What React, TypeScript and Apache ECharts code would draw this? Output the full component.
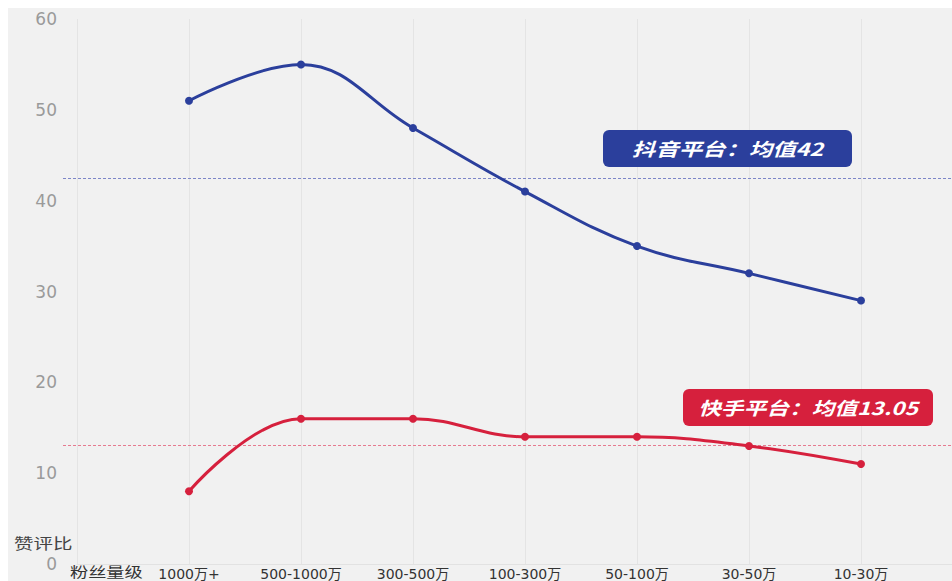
import React, { useEffect, useRef } from "react";
import * as echarts from "echarts";

const categories = ["", "1000万+", "500-1000万", "300-500万", "100-300万", "50-100万", "30-50万", "10-30万", ""];
const douyinValues = [null, 51, 55, 48, 41, 35, 32, 29, null];
const kuaishouValues = [null, 8, 16, 16, 14, 14, 13, 11, null];
const douyinMean = 42.5;
const kuaishouMean = 13.05;
const douyinLabel = "抖音平台：均值42";
const kuaishouLabel = "快手平台：均值13.05";
const yTicks = [0, 10, 20, 30, 40, 50, 60];

const BLUE = "#2b3f9c";
const RED = "#d6203d";
const BLUE_DASH = "#7d86c8";
const RED_DASH = "#e67a90";

export default function App() {
  const ref = useRef<HTMLDivElement>(null);
  useEffect(() => {
    const chart = echarts.init(ref.current!, null, { renderer: "svg" });
    const fontFamily = "'Noto Sans CJK SC', 'Noto Sans', sans-serif";
    const wideFont = "'DejaVu Sans', 'Noto Sans CJK SC', sans-serif";
    const boxText = (text: string, w: number, sx: number) => ({
      type: "text",
      x: w / 2,
      y: 18.5,
      scaleX: sx,
      z: 101,
      style: {
        text,
        fill: "#fff",
        fontSize: 18,
        fontWeight: "bold",
        fontStyle: "italic",
        fontFamily,
        align: "center",
        verticalAlign: "middle",
      },
    });
    chart.setOption({
      animation: false,
      color: [BLUE, RED],
      backgroundColor: "#f1f1f1",
      textStyle: { fontFamily },
      grid: { left: 69, width: 896, top: 11, bottom: 17, containLabel: false, outerBoundsMode: "none" },
      xAxis: {
        type: "category",
        data: categories,
        boundaryGap: false,
        axisLine: { show: true, lineStyle: { color: "#e2e2e2" } },
        axisTick: { show: false },
        axisLabel: { color: "#333", fontSize: 14, margin: 3, interval: 0, fontFamily: wideFont },
        splitLine: { show: true, lineStyle: { color: "#e4e4e4", width: 1 } },
      },
      yAxis: {
        type: "value",
        min: yTicks[0],
        max: yTicks[yTicks.length - 1],
        interval: 10,
        axisLine: { show: false },
        axisTick: { show: false },
        axisLabel: { color: "#9a9a9a", fontSize: 17, margin: 20, fontFamily: wideFont },
        splitLine: { show: false },
      },
      series: [
        {
          type: "line",
          data: douyinValues,
          smooth: 0.4,
          symbol: "circle",
          symbolSize: 8,
          z: 3,
          lineStyle: { color: BLUE, width: 3 },
          itemStyle: { color: BLUE },
        },
        {
          type: "line",
          data: kuaishouValues,
          smooth: 0.4,
          symbol: "circle",
          symbolSize: 8,
          z: 3,
          lineStyle: { color: RED, width: 3 },
          itemStyle: { color: RED },
        },
      ],
      graphic: [
        {
          id: "box-douyin",
          type: "group",
          x: 595,
          y: 122,
          z: 100,
          children: [
            { type: "rect", z: 100, shape: { x: 0, y: 0, width: 249, height: 37, r: 6 }, style: { fill: BLUE } },
            boxText(douyinLabel, 249, 1.3),
          ],
        },
        {
          id: "box-kuaishou",
          type: "group",
          x: 675,
          y: 381,
          z: 100,
          children: [
            { type: "rect", z: 100, shape: { x: 0, y: 0, width: 250, height: 37, r: 6 }, style: { fill: RED } },
            boxText(kuaishouLabel, 250, 1.26),
          ],
        },
        {
          id: "yname",
          type: "text",
          x: 6,
          y: 535,
          scaleX: 1.3,
          style: { text: "赞评比", fill: "#444", fontSize: 15, fontFamily, verticalAlign: "middle" },
        },
        {
          id: "xname",
          type: "text",
          x: 62,
          y: 563,
          scaleX: 1.3,
          style: { text: "粉丝量级", fill: "#333", fontSize: 14, fontFamily, verticalAlign: "middle" },
        },
      ],
    });
    const yDouyin = chart.convertToPixel({ yAxisIndex: 0 }, douyinMean) as number;
    const yKuaishou = chart.convertToPixel({ yAxisIndex: 0 }, kuaishouMean) as number;
    const meanLine = (id: string, y: number, color: string) => ({
      id,
      type: "line",
      z: 1,
      silent: true,
      shape: { x1: 55, y1: Math.round(y) + 0.5, x2: 944, y2: Math.round(y) + 0.5 },
      style: { stroke: color, lineWidth: 1, lineDash: [3, 2] },
    });
    chart.setOption({
      graphic: [meanLine("mean-douyin", yDouyin, BLUE_DASH), meanLine("mean-kuaishou", yKuaishou, RED_DASH)],
    });
    return () => chart.dispose();
  }, []);
  return (
    <div
      ref={ref}
      style={{ position: "fixed", left: 8, top: 8, width: 944, height: 573, overflow: "hidden" }}
    />
  );
}
